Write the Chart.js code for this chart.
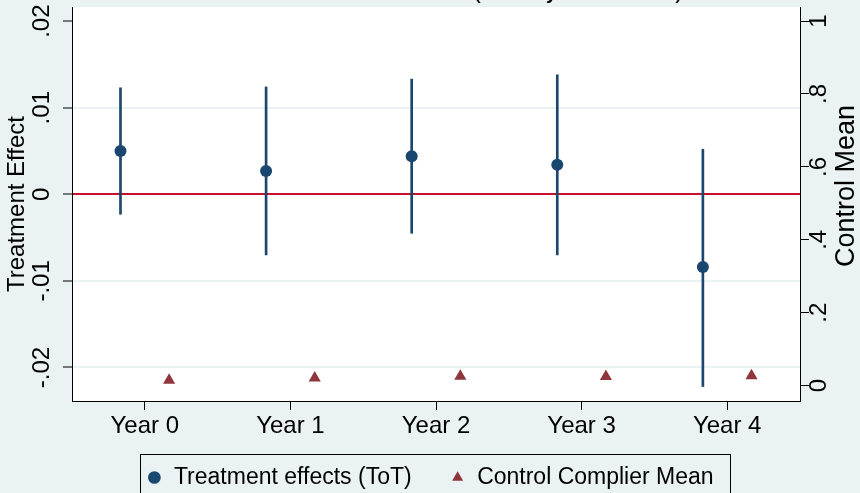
<!DOCTYPE html>
<html>
<head>
<meta charset="utf-8">
<script src="https://cdn.jsdelivr.net/npm/chart.js@4.4.0/dist/chart.umd.min.js"></script>
<style>
  html, body { margin: 0; padding: 0; background: #eaf2f3; }
</style>
</head>
<body>
<canvas id="mycanvas" width="860" height="493"></canvas>
<script>
// data
var years = ['Year 0', 'Year 1', 'Year 2', 'Year 3', 'Year 4'];
var effect = [0.0050, 0.0027, 0.0044, 0.0034, -0.0084];
var ciLow = [-0.0023, -0.0070, -0.0045, -0.0070, -0.0222];
var ciHigh = [0.0123, 0.0124, 0.0133, 0.0138, 0.0052];
var controlMean = [0.015, 0.021, 0.026, 0.025, 0.027];

var leftTicks = [-0.02, -0.01, 0, 0.01, 0.02];
var leftTickLabels = ['-.02', '-.01', '0', '.01', '.02'];
var rightTicks = [0, 0.2, 0.4, 0.6, 0.8, 1];
var rightTickLabels = ['0', '.2', '.4', '.6', '.8', '1'];

var navy = '#1a476f';
var maroon = '#90353b';
var zeroRed = '#c8102e';
var bgColor = '#eaf2f3';
var shift = 0.167; // markers sit a bit left / right of each year
var FONT = "'Liberation Sans', Arial, sans-serif";

Chart.defaults.font.family = FONT;
Chart.defaults.color = '#000';

function noPad(s) {
	s.paddingTop = 0;
	s.paddingBottom = 0;
	s.paddingLeft = 0;
	s.paddingRight = 0;
}

var stataLook = {
	id: 'stataLook',
	afterLayout: function(chart) {
		// let the year labels overlap the legend box instead of being clipped
		chart.scales.x.bottom = chart.height;
	},
	beforeDraw: function(chart) {
		var ctx = chart.ctx, a = chart.chartArea;
		ctx.save();
		ctx.fillStyle = bgColor;
		ctx.fillRect(0, 0, chart.width, chart.height);
		ctx.fillStyle = '#ffffff';
		ctx.fillRect(a.left, a.top, a.right - a.left, a.bottom - a.top);
		ctx.restore();
	},
	afterDraw: function(chart) {
		var ctx = chart.ctx;
		var boxes = chart.legend.legendHitBoxes;
		var first = boxes[0], last = boxes[boxes.length - 1];
		ctx.save();
		// legend frame (runs off the bottom like in the original)
		var l = Math.round(first.left - 6) + 0.5;
		var r = Math.round(last.left + last.width + 16) + 0.5;
		var t = Math.round(first.top - 12) + 0.5;
		ctx.strokeStyle = '#000';
		ctx.lineWidth = 1;
		ctx.strokeRect(l, t, r - l, chart.height);

		// right axis title, reading bottom to top
		ctx.fillStyle = '#000';
		ctx.font = '27px ' + FONT;
		ctx.textAlign = 'center';
		ctx.textBaseline = 'middle';
		ctx.translate(847, 186);
		ctx.rotate(-Math.PI / 2);
		ctx.fillText('Control Mean', 0, 0);
		ctx.restore();

		// title, cut off by the top edge
		ctx.save();
		ctx.fillStyle = '#000';
		ctx.font = '25px ' + FONT;
		ctx.textAlign = 'center';
		ctx.textBaseline = 'alphabetic';
		ctx.fillText('(Survey Estimates)', 578, -2);
		ctx.restore();
	}
};

var errData = [], effData = [], ctrlData = [];
for (var i in years) {
	i = Number(i);
	errData.push({x: i - shift, y: [ciLow[i], ciHigh[i]]});
	effData.push({x: i - shift, y: effect[i]});
	ctrlData.push({x: i + shift, y: controlMean[i]});
}

var ctx = document.getElementById('mycanvas');

var chart = new Chart(ctx, {
	type: 'scatter',
	data: {
		datasets: [
			{
				type: 'bar',
				label: 'ci',
				data: errData,
				yAxisID: 'y',
				backgroundColor: navy,
				borderWidth: 0,
				barThickness: 2,
				order: 3
			},
			{
				label: 'Treatment effects (ToT)',
				data: effData,
				yAxisID: 'y',
				backgroundColor: navy,
				borderWidth: 0,
				pointStyle: 'circle',
				pointRadius: 6,
				order: 1
			},
			{
				label: 'Control Complier Mean',
				data: ctrlData,
				yAxisID: 'y1',
				backgroundColor: maroon,
				borderWidth: 0,
				pointStyle: 'triangle',
				pointRadius: 7,
				order: 1
			}
		]
	},
	options: {
		responsive: false,
		animation: false,
		events: [],
		layout: { padding: { top: 7, left: 0, right: 0, bottom: -6 } },
		plugins: {
			tooltip: { enabled: false },
			legend: {
				position: 'bottom',
				labels: {
					usePointStyle: true,
					boxWidth: 16,
					boxHeight: 9,
					padding: 38,
					font: { size: 23 },
					color: '#000',
					filter: function(item) { return item.datasetIndex !== 0; }
				}
			}
		},
		scales: {
			x: {
				type: 'linear',
				min: -0.5,
				max: 4.5,
				offset: false,
				afterBuildTicks: function(s) {
					s.ticks = years.map(function(_, i) { return {value: i}; });
				},
				ticks: {
					callback: function(v) { return years[v]; },
					font: { size: 24 },
					color: '#000',
					padding: 2,
					maxRotation: 0,
					autoSkip: false
				},
				grid: { offset: false, drawOnChartArea: false, tickLength: 9, tickColor: '#000', tickWidth: 1 },
				border: { color: '#000', width: 1 },
				afterFit: function(s) { s.height = 27; noPad(s); }
			},
			y: {
				position: 'left',
				min: -0.02387,
				max: 0.02163,
				afterBuildTicks: function(s) {
					s.ticks = leftTicks.map(function(v) { return {value: v}; });
				},
				ticks: {
					callback: function(v, idx) { return leftTickLabels[idx]; },
					minRotation: 90,
					maxRotation: 90,
					crossAlign: 'center',
					padding: 0,
					font: { size: 24 },
					color: '#000'
				},
				grid: {
					color: function(c) {
						if (!c.tick) return bgColor;
						if (c.tick.value === 0) return zeroRed;
						if (c.tick.value === 0.02) return 'rgba(0,0,0,0)';
						return bgColor;
					},
					lineWidth: 2,
					tickLength: 9,
					tickColor: '#000',
					tickWidth: 1
				},
				border: { color: '#000', width: 1 },
				title: {
					display: true,
					text: 'Treatment Effect',
					font: { size: 24 },
					color: '#000',
					padding: { top: 3, bottom: 0 }
				},
				afterFit: function(s) { s.width = 72; noPad(s); }
			},
			y1: {
				position: 'right',
				min: -0.042,
				max: 1.0384,
				afterBuildTicks: function(s) {
					s.ticks = rightTicks.map(function(v) { return {value: v}; });
				},
				ticks: {
					callback: function(v, idx) { return rightTickLabels[idx]; },
					minRotation: 90,
					maxRotation: 90,
					crossAlign: 'center',
					padding: 0,
					font: { size: 24 },
					color: '#000'
				},
				grid: { drawOnChartArea: false, tickLength: 9, tickColor: '#000', tickWidth: 1 },
				border: { color: '#000', width: 1 },
				afterFit: function(s) { s.width = 60; noPad(s); }
			}
		}
	},
	plugins: [stataLook]
});
</script>
</body>
</html>
